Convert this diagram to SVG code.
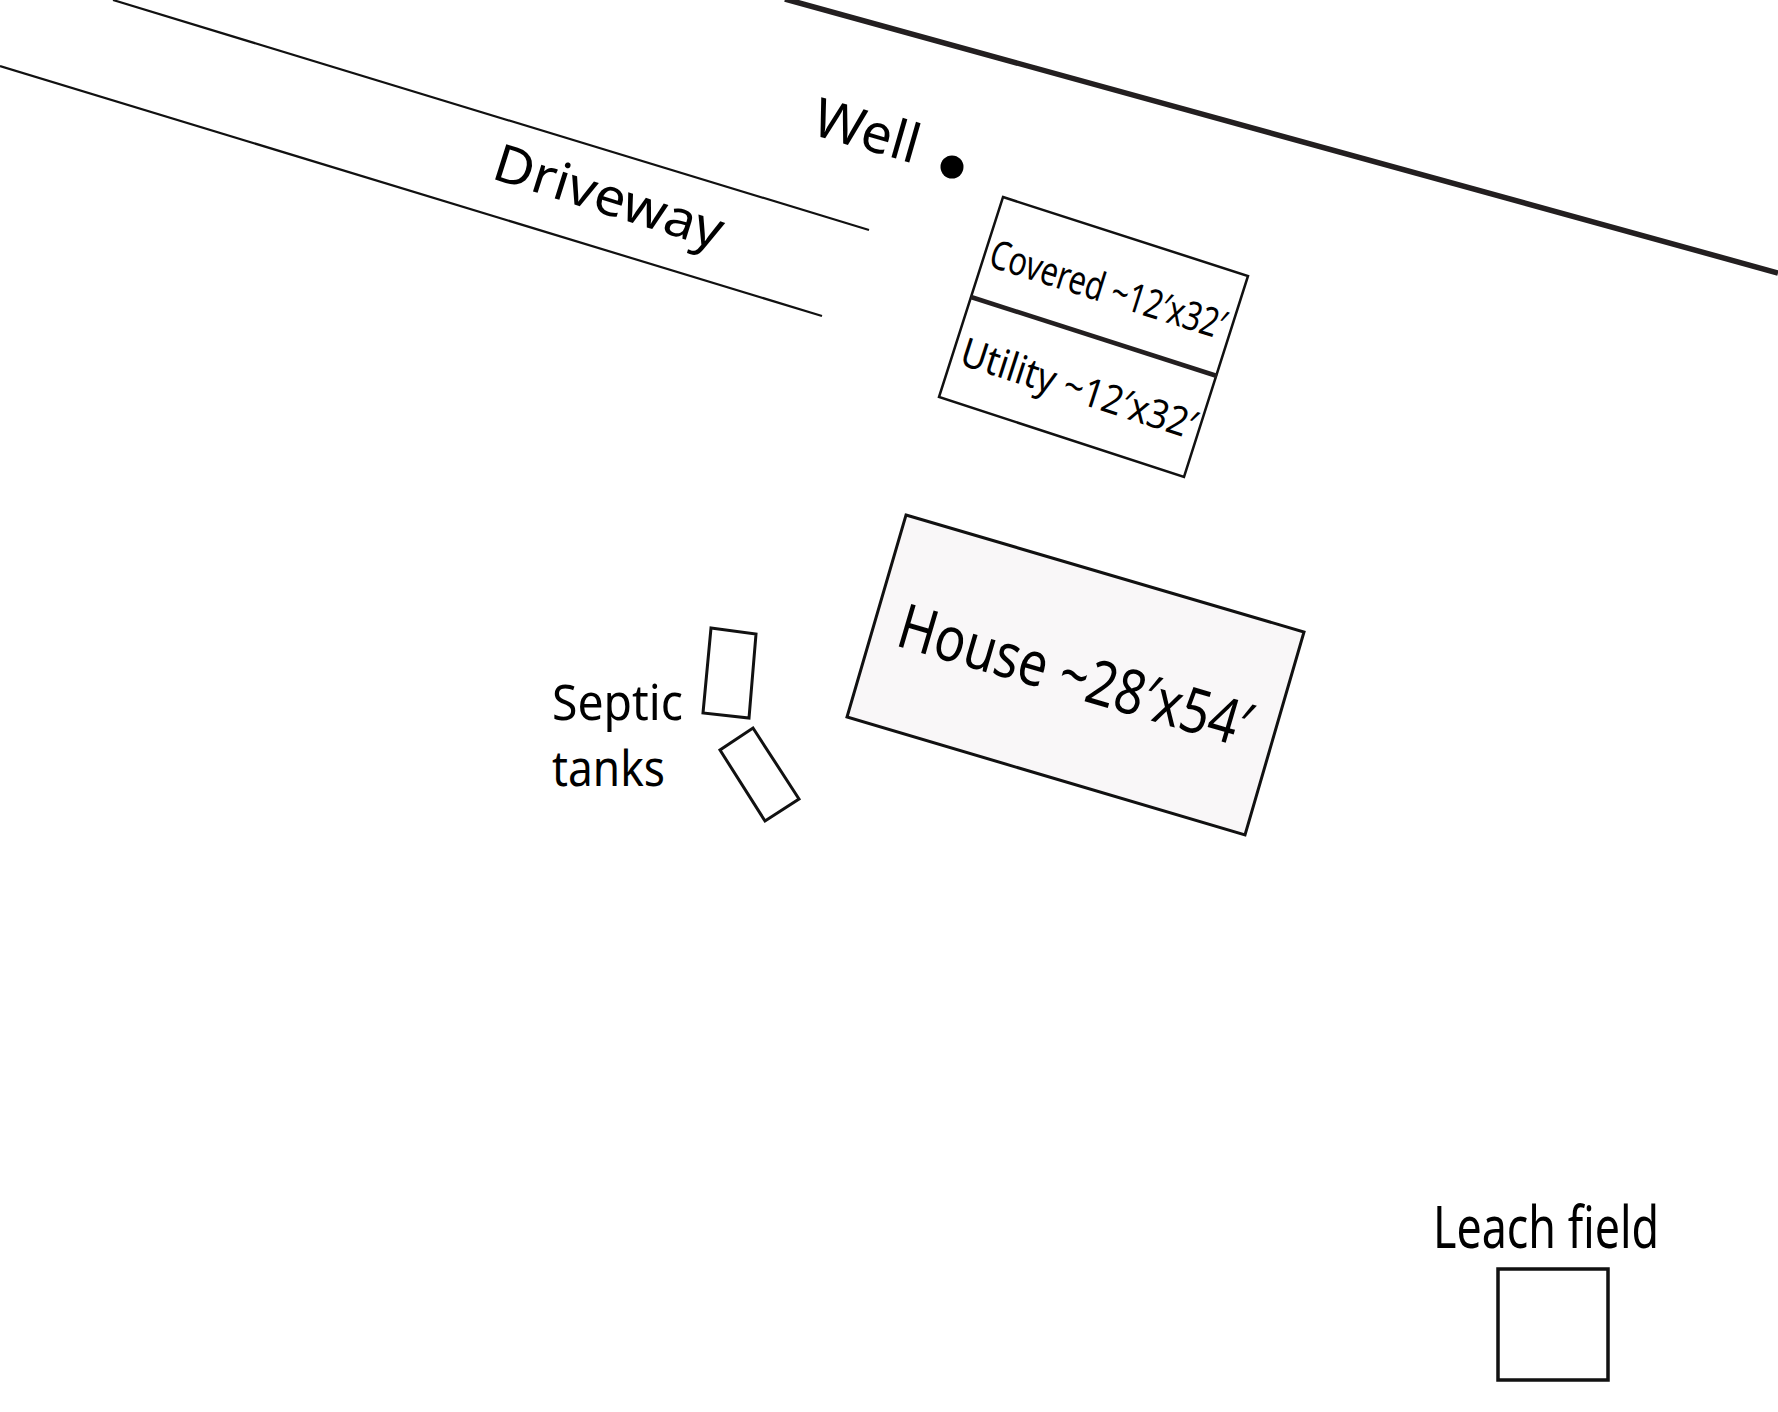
<svg xmlns="http://www.w3.org/2000/svg" width="1778" height="1412" viewBox="0 0 1778 1412">
<style>
text{font-family:"Noto Sans","Open Sans","DejaVu Sans",sans-serif;fill:#000}
.o{fill:#fff;stroke:#111;stroke-width:3}
.t{fill:none;stroke:#111;stroke-width:2.2}
</style>
<rect width="1778" height="1412" fill="#fff"/>
<g id="connectors">
<path class="t" d="M113 0L869 230"/>
<path class="t" d="M0 66L822 316"/>
<path d="M785 -1L1778 273" fill="none" stroke="#231f20" stroke-width="5.5"/>
</g>
<g id="driveway-label"><text font-size="52" transform="translate(490 178) rotate(17.5)" textLength="238" lengthAdjust="spacingAndGlyphs">Driveway</text></g>
<g id="well"><circle cx="952" cy="167" r="11.5" fill="#000"/><text font-size="54" transform="translate(810 134) rotate(16)" textLength="108" lengthAdjust="spacingAndGlyphs">Well</text></g>
<g id="utility">
<path class="o" d="M1003 197L1248 276L1184 477L939 397Z" style="stroke-width:2.5"/>
<path d="M971 297L1217 376" fill="none" stroke="#231f20" stroke-width="4.5"/>
<text font-size="40" transform="translate(987 266) rotate(17.5)" textLength="245" lengthAdjust="spacingAndGlyphs">Covered ~12′x32′</text>
<text font-size="40" transform="translate(958 364) rotate(18)" textLength="245" lengthAdjust="spacingAndGlyphs">Utility ~12′x32′</text>
</g>
<g id="house">
<path d="M906 515L1304 632L1245 835L847 717Z" fill="#f9f7f8" stroke="#111" stroke-width="3"/>
<text font-size="62" transform="translate(894 645) rotate(16.4)" textLength="364" lengthAdjust="spacingAndGlyphs">House ~28′x54′</text>
</g>
<g id="septic">
<path class="o" d="M711 628L756 634L749 718L703 713Z"/>
<path class="o" d="M753 728L799 799L765 821L720 750Z"/>
<text font-size="50" x="552" y="720" textLength="131" lengthAdjust="spacingAndGlyphs">Septic</text>
<text font-size="50" x="552" y="786" textLength="113" lengthAdjust="spacingAndGlyphs">tanks</text>
</g>
<g id="leach">
<path class="o" d="M1498 1269H1608V1380H1498Z" style="stroke-width:3.5"/>
<text font-size="58" x="1433" y="1248" textLength="226" lengthAdjust="spacingAndGlyphs">Leach field</text>
</g>
</svg>
